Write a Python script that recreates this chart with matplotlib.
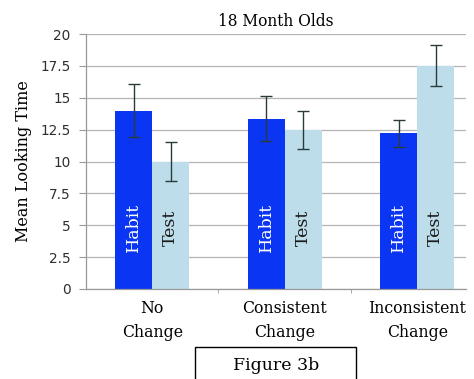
import numpy as np
import matplotlib.pyplot as plt
from matplotlib.patches import Rectangle

# mean looking time per condition, 18 month olds
conditions = ['No\nChange', 'Consistent\nChange', 'Inconsistent\nChange']
habit_mean = [14.0, 13.35, 12.2]
habit_err = [2.05, 1.75, 1.05]
test_mean = [10.0, 12.5, 17.5]
test_err = [1.55, 1.5, 1.6]
y_ticks = [0, 2.5, 5, 7.5, 10, 12.5, 15, 17.5, 20]
y_tick_labels = ['0', '2.5', '5', '7.5', '10', '12.5', '15', '17.5', '20']

habit_color = '#0a35f2'
test_color = '#bcdde9'
err_color = '#2b3b3b'
serif = 'DejaVu Serif'

fig = plt.figure(figsize=(4.74, 3.79), dpi=100)
ax = fig.add_axes([86 / 474, 90 / 379, 380 / 474, 255 / 379])

x = np.arange(len(conditions))
w = 0.28
err_kw = dict(ecolor=err_color, elinewidth=1.0, capsize=4.5, capthick=1.0)
ax.bar(x - w / 2, habit_mean, w, yerr=habit_err, color=habit_color, error_kw=err_kw, zorder=2)
ax.bar(x + w / 2, test_mean, w, yerr=test_err, color=test_color, error_kw=err_kw, zorder=2)

# series names written inside each bar
for xi in x:
    ax.text(xi - w / 2, 4.8, 'Habit', rotation=90, ha='center', va='center',
            color='white', fontsize=12.5, family=serif, zorder=3)
    ax.text(xi + w / 2, 4.8, 'Test', rotation=90, ha='center', va='center',
            color='#1a1a1a', fontsize=12.5, family=serif, zorder=3)

ax.set_xlim(-0.5, 2.368)
ax.set_ylim(0, 20)
ax.set_yticks(y_ticks)
ax.set_yticklabels(y_tick_labels, fontsize=9.8, color='#2e2e2e')
ax.yaxis.grid(True, color='#b4b4b4', linewidth=0.9, zorder=0)
ax.set_axisbelow(True)

ax.set_xticks(x)
ax.set_xticklabels(conditions, fontsize=11.3, family=serif, linespacing=1.55)
ax.tick_params(axis='x', length=0, pad=8)
ax.set_xticks([0.5, 1.5], minor=True)
ax.tick_params(axis='x', which='minor', length=3, color='#999999')
ax.tick_params(axis='y', length=5, color='#999999', pad=6)

for side in ['top', 'right']:
    ax.spines[side].set_visible(False)
for side in ['left', 'bottom']:
    ax.spines[side].set_color('#999999')
    ax.spines[side].set_linewidth(0.9)

ax.set_ylabel('Mean Looking Time', fontsize=11.5, family=serif, labelpad=6)
fig.text(276 / 474, 1 - 22 / 379, '18 Month Olds', ha='center', va='center',
         fontsize=11.2, family=serif)

# caption box at the bottom
fig.patches.append(Rectangle((195 / 474, -10 / 379), 161 / 474, 42 / 379,
                             transform=fig.transFigure, fill=False,
                             edgecolor='black', linewidth=1.0))
fig.text(276 / 474, 1 - 366 / 379, 'Figure 3b', ha='center', va='center',
         fontsize=12.5, family=serif)

fig.savefig('out.png', dpi=100)
